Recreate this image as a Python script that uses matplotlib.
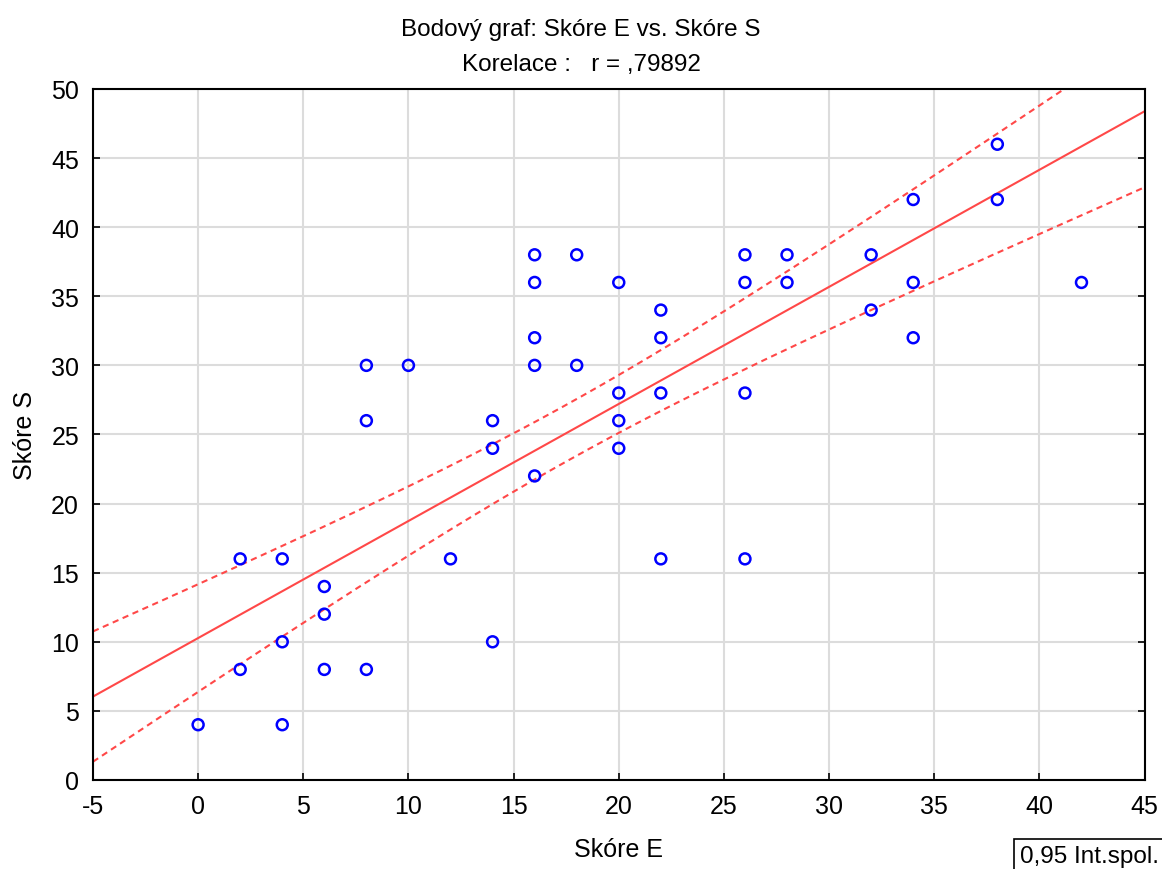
import numpy as np
import matplotlib.pyplot as plt

plt.rcParams['font.family'] = ['Liberation Sans', 'DejaVu Sans']
plt.rcParams['axes.unicode_minus'] = False

# data
skore_e = [0, 2, 2, 4, 4, 4, 6, 6, 6, 8, 8, 8, 10, 12, 14, 14, 14,
           16, 16, 16, 16, 16, 18, 18, 20, 20, 20, 20, 22, 22, 22, 22,
           26, 26, 26, 26, 28, 28, 32, 32, 34, 34, 34, 38, 38, 42]
skore_s = [4, 16, 8, 16, 10, 4, 14, 12, 8, 30, 26, 8, 30, 16, 26, 24, 10,
           38, 36, 32, 30, 22, 38, 30, 36, 28, 26, 24, 34, 32, 28, 16,
           38, 36, 28, 16, 38, 36, 38, 34, 42, 36, 32, 46, 42, 36]
x_ticks = [-5, 0, 5, 10, 15, 20, 25, 30, 35, 40, 45]
y_ticks = [0, 5, 10, 15, 20, 25, 30, 35, 40, 45, 50]

# fitted line and 0.95 band
# (some points overlap, so a fit of the visible points is a bit off)
fit_intercept = 10.27
fit_slope = 0.847
band_min = 2.05      # half-width of the band at its narrowest
band_center = 17.7   # x where the band is narrowest
band_growth = 0.187  # how fast the half-width grows away from it

xs = np.linspace(-5, 45, 300)
yh = fit_intercept + fit_slope * xs
half = np.sqrt(band_min ** 2 + (band_growth * (xs - band_center)) ** 2)

fig = plt.figure(figsize=(11.62, 8.70), dpi=100)
ax_left, ax_w = 0.080, 0.905
ax = fig.add_axes([ax_left, 0.1023, ax_w, 0.7943])

red = '#ff4848'
ax.plot(xs, yh, color=red, lw=1.5, zorder=2)
ax.plot(xs, yh + half, color=red, lw=1.5, ls=(0, (3, 2.2)), zorder=2)
ax.plot(xs, yh - half, color=red, lw=1.5, ls=(0, (3, 2.2)), zorder=2)
ax.scatter(skore_e, skore_s, s=62, facecolors='none', edgecolors='#0000ff',
           linewidths=1.8, zorder=3)

ax.set_xlim(-5, 45)
ax.set_ylim(0, 50)
ax.set_xticks(x_ticks)
ax.set_yticks(y_ticks)
ax.grid(True, color='#dcdcdc', lw=1.5)
ax.set_axisbelow(True)
ax.tick_params(direction='in', length=5, width=1.2, labelsize=18,
               right=True, top=False, pad=10)
for sp in ax.spines.values():
    sp.set_linewidth(1.5)

ax.set_xlabel('Skóre E', fontsize=18, labelpad=14)
ax.set_ylabel('Skóre S', fontsize=18, labelpad=10)
# title is centred on the figure, not on the axes
ax.set_title('Bodový graf: Skóre E vs. Skóre S\nKorelace :   r = ,79892',
             fontsize=17.5, linespacing=1.75, pad=14,
             x=(0.5 - ax_left) / ax_w)

fig.text(1020 / 1162, 0.015, '0,95 Int.spol.', fontsize=17.5,
         ha='left', va='center',
         bbox=dict(boxstyle='square,pad=0.25', fc='white', ec='black', lw=1.2))

fig.savefig('out.png', dpi=100)
